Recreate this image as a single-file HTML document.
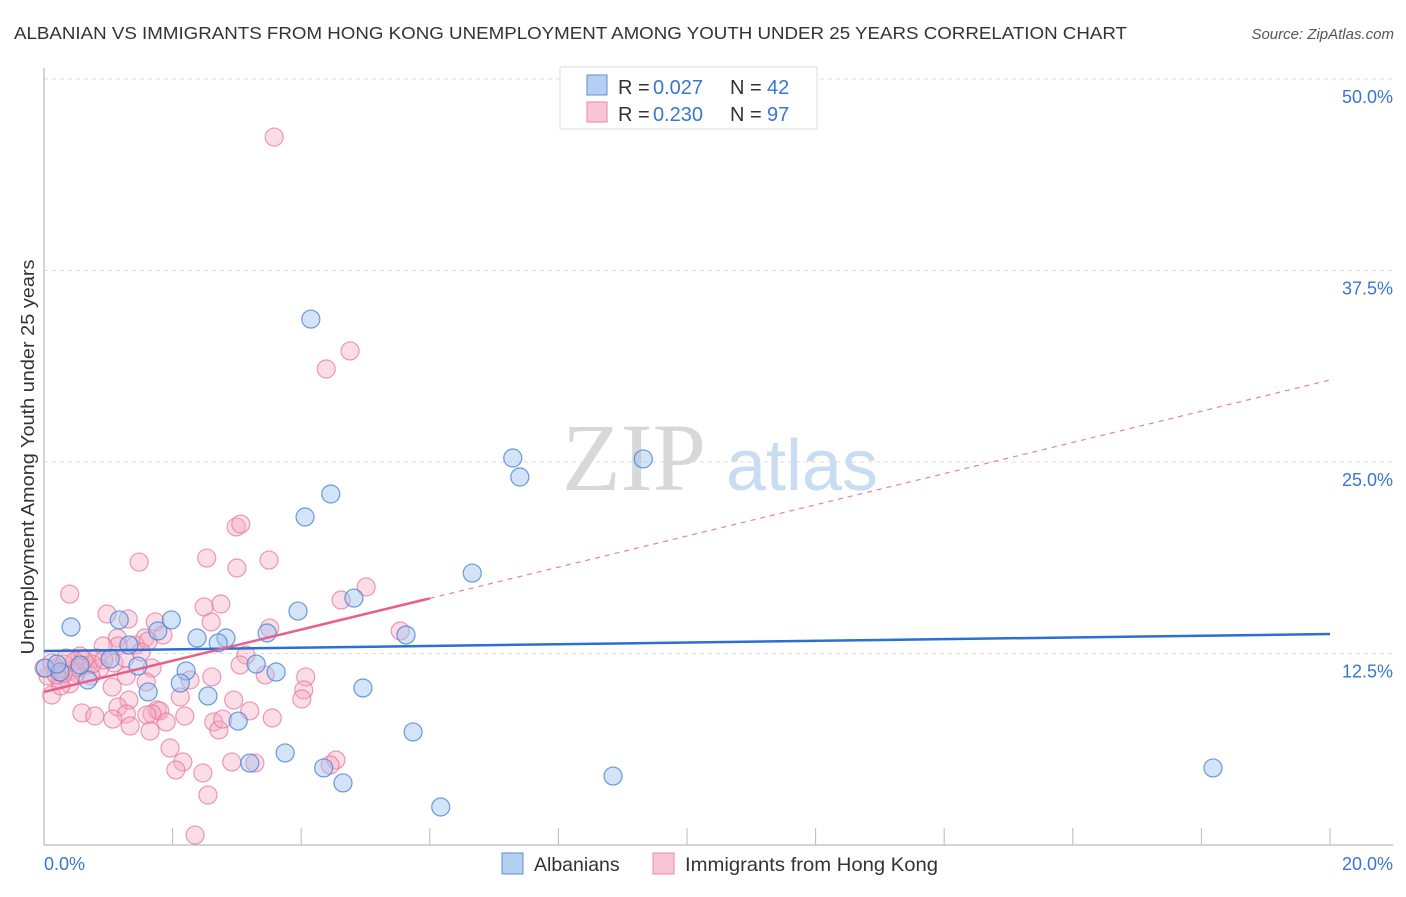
<!DOCTYPE html>
<html><head><meta charset="utf-8"><style>
body{margin:0;background:#fff;font-family:"Liberation Sans",sans-serif}
svg text{font-family:"Liberation Sans",sans-serif}
</style></head><body>
<svg id="chart" width="1406" height="892" viewBox="0 0 1406 892">
<text x="14" y="39" font-size="17.5" fill="#333" textLength="1113" lengthAdjust="spacingAndGlyphs">ALBANIAN VS IMMIGRANTS FROM HONG KONG UNEMPLOYMENT AMONG YOUTH UNDER 25 YEARS CORRELATION CHART</text>
<text x="1394" y="39" font-size="15" fill="#555" font-style="italic" text-anchor="end">Source: ZipAtlas.com</text>
<g>
<text x="634" y="490" font-size="96" fill="#d8d8d8" text-anchor="middle" font-family="Liberation Serif" style="font-family:'Liberation Serif',serif">ZIP</text>
<text x="802" y="490" font-size="72" fill="#c8dcf2" text-anchor="middle">atlas</text>
</g>
<g id="grid"></g>
<g id="axes"></g>
<g id="marks"></g>
<g>
<rect x="560" y="67" width="257" height="62" fill="#fff" stroke="#ddd"/>
<rect x="587" y="75" width="20" height="20" fill="#b5cff3" stroke="#5b8fd8"/>
<text x="618" y="94" font-size="20" fill="#333">R =</text>
<text x="653" y="94" font-size="20" fill="#3a75d0">0.027</text>
<text x="730" y="94" font-size="20" fill="#333">N =</text>
<text x="767" y="94" font-size="20" fill="#3a75d0">42</text>
<rect x="587" y="102" width="20" height="20" fill="#f8c6d4" stroke="#e88aa8"/>
<text x="618" y="121" font-size="20" fill="#333">R =</text>
<text x="653" y="121" font-size="20" fill="#3a75d0">0.230</text>
<text x="730" y="121" font-size="20" fill="#333">N =</text>
<text x="767" y="121" font-size="20" fill="#3a75d0">97</text>
</g>
<g>
<rect x="502" y="853" width="21" height="21" fill="#b5cff3" stroke="#5b8fd8"/>
<text x="534" y="871" font-size="19.5" fill="#333">Albanians</text>
<rect x="653" y="853" width="21" height="21" fill="#f8c6d4" stroke="#e88aa8"/>
<text x="685" y="871" font-size="19.5" fill="#333" textLength="253" lengthAdjust="spacingAndGlyphs">Immigrants from Hong Kong</text>
</g>
<text transform="translate(34,457) rotate(-90)" font-size="18.5" fill="#333" text-anchor="middle" textLength="395" lengthAdjust="spacingAndGlyphs">Unemployment Among Youth under 25 years</text>
</svg>
<script>
const yTicks=[12.5,25,37.5,50];
const yTickLabels=["12.5%","25.0%","37.5%","50.0%"];
const xTickVals=[2,4,6,8,10,12,14,16,18,20];
const blueX=[0.42,4.15,7.29,7.40,9.32,4.46,4.06,6.66,4.82,3.95,1.98,1.17,1.77,2.38,2.83,2.71,3.47,1.32,5.63,1.03,1.46,2.21,3.30,3.61,0.68,2.12,1.62,2.55,4.96,3.02,5.74,3.75,3.20,4.35,4.65,8.85,6.17,18.18,0.02,0.25,0.56,0.20];
const blueY=[14.23,34.33,25.26,24.02,25.20,22.91,21.41,17.75,16.12,15.27,14.69,14.69,13.97,13.51,13.51,13.19,13.84,13.05,13.71,12.14,11.68,11.36,11.81,11.29,10.77,10.57,9.99,9.73,10.25,8.09,7.38,6.01,5.35,5.03,4.05,4.50,2.48,5.03,11.55,11.29,11.75,11.81];
const pinkX=[3.58,4.76,4.39,0.40,1.48,2.53,3.00,3.50,2.99,3.06,5.01,4.62,2.75,2.49,0.98,1.31,1.73,2.60,1.85,3.51,5.54,1.14,1.57,1.42,1.62,1.15,0.92,0.56,0.82,1.09,1.26,0.12,0.19,0.31,0.44,0.68,0.87,0.73,0.50,0.06,0.25,0.40,1.51,1.68,3.14,3.05,2.61,3.44,4.07,4.04,4.01,2.27,2.12,1.59,1.28,1.06,1.32,1.15,0.59,0.79,1.76,1.80,1.68,1.60,1.28,1.07,1.34,1.65,1.90,2.19,2.64,2.72,2.78,2.95,3.20,3.55,1.96,2.16,2.05,2.47,2.55,2.35,2.92,3.28,4.54,4.45,0.12,0.26,0.48,0.75,0.19,0.34,0.62,0.93,0.00,0.30,0.55];
const pinkY=[46.21,32.25,31.07,16.38,18.47,18.73,18.08,18.60,20.76,20.95,16.84,15.99,15.73,15.54,15.08,14.75,14.56,14.56,13.71,14.16,13.97,13.51,13.51,13.05,13.32,12.99,12.99,12.34,12.21,11.88,12.21,11.88,11.55,11.81,11.42,11.75,11.55,11.03,11.23,11.03,10.77,10.51,12.60,11.55,12.40,11.75,10.97,11.10,10.97,10.12,9.53,10.77,9.66,10.64,11.03,10.31,9.46,9.01,8.62,8.42,8.81,8.75,8.55,8.49,8.55,8.22,7.77,7.44,8.03,8.42,8.03,7.51,8.22,9.46,8.75,8.29,6.33,5.42,4.90,4.70,3.26,0.65,5.42,5.35,5.55,5.22,9.79,10.38,12.01,11.81,11.10,12.21,12.08,12.08,11.55,11.2,11.6];
const blueTrend=[12.66,13.77];
const pinkTrend=[9.99,30.35];
const pinkSolidEnd=6.0;

const NS="http://www.w3.org/2000/svg";
const X=v=>44+v*64.3, Y=v=>845-v*15.32;
function mk(tag,attrs,parent){const e=document.createElementNS(NS,tag);for(const k in attrs)e.setAttribute(k,attrs[k]);parent.appendChild(e);return e;}
const grid=document.getElementById('grid'),axes=document.getElementById('axes'),marks=document.getElementById('marks');
yTicks.forEach((t,i)=>{
  const l=mk('line',{x1:44,x2:1393,y1:Y(t),y2:Y(t),stroke:'#ddd','stroke-dasharray':'4,4'},grid);
  
  
  const tx=mk('text',{x:1393,y:Y(t)+24,'font-size':18,fill:'#3a75d0','text-anchor':'end'},grid);
  tx.textContent=yTickLabels[i];
  
  
});
const ax=mk('line',{x1:44,x2:44,y1:68,y2:845,stroke:'#aaa'},axes);


const bx=mk('line',{x1:44,x2:1393,y1:845,y2:845,stroke:'#aaa'},axes);


xTickVals.forEach(v=>{
  const t=mk('line',{x1:X(v),x2:X(v),y1:828,y2:845,stroke:'#bbb'},axes);
  
  
});
[["0.0%",44,'start'],["20.0%",1393,'end']].forEach(a=>{
  const t=mk('text',{x:a[1],y:870,'font-size':18,fill:'#3a75d0','text-anchor':a[2]},axes);
  t.textContent=a[0];
  
  
});
pinkX.forEach((x,i)=>{
  const c=mk('circle',{cx:X(x),cy:Y(pinkY[i]),r:9,fill:'rgba(245,170,195,0.4)',stroke:'rgba(232,120,155,0.75)','stroke-width':1.2},marks);
  
  
});
blueX.forEach((x,i)=>{
  const c=mk('circle',{cx:X(x),cy:Y(blueY[i]),r:9,fill:'rgba(160,195,240,0.45)',stroke:'rgba(70,130,215,0.8)','stroke-width':1.2},marks);
  
  
});
const bt=mk('line',{x1:X(0),y1:Y(blueTrend[0]),x2:X(20),y2:Y(blueTrend[1]),stroke:'#2a6fd6','stroke-width':2.5},marks);


const pAt=v=>pinkTrend[0]+(pinkTrend[1]-pinkTrend[0])*v/20;
const ps=mk('line',{x1:X(0),y1:Y(pAt(0)),x2:X(pinkSolidEnd),y2:Y(pAt(pinkSolidEnd)),stroke:'#e8608a','stroke-width':2.5},marks);


const pd=mk('line',{x1:X(pinkSolidEnd),y1:Y(pAt(pinkSolidEnd)),x2:X(20),y2:Y(pAt(20)),stroke:'#e8809f','stroke-width':1.2,'stroke-dasharray':'5,5'},marks);


</script>
</body></html>
